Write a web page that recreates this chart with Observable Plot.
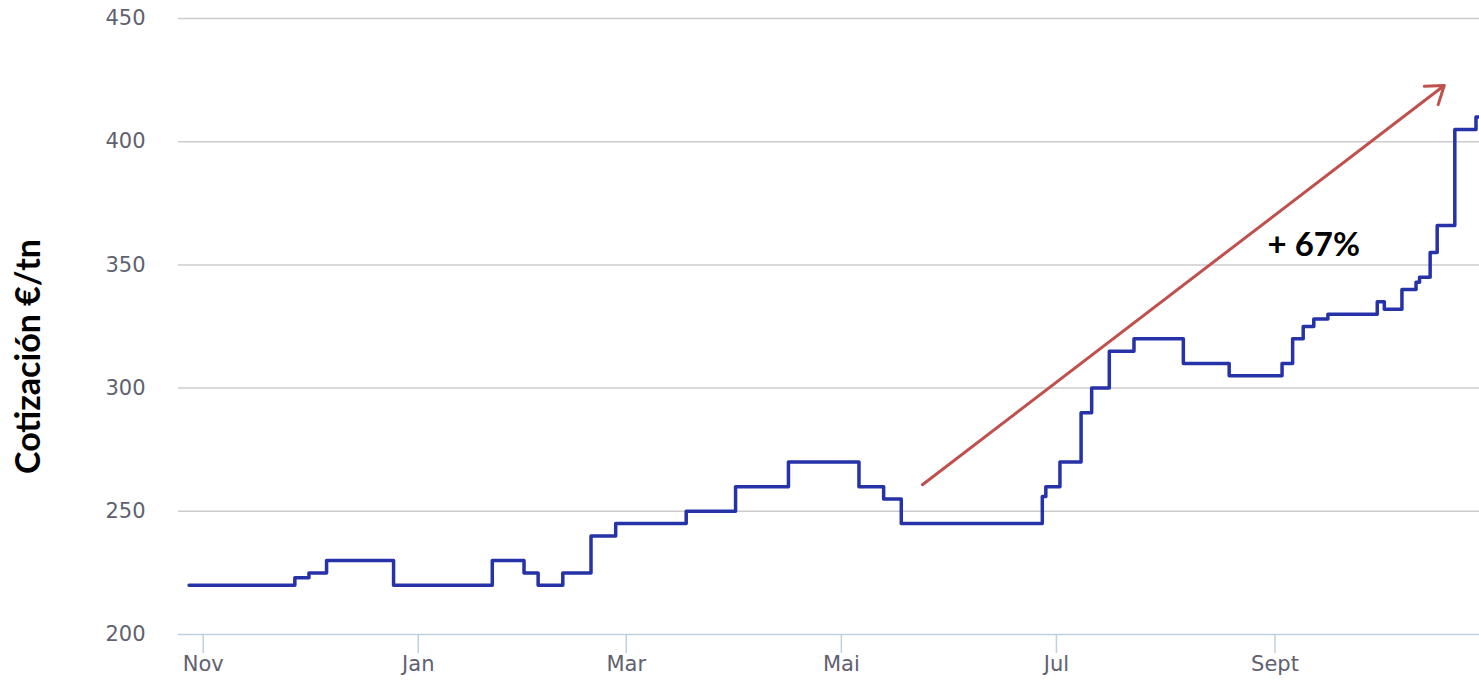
<!DOCTYPE html>
<html>
<head>
<meta charset="utf-8">
<script src="https://cdn.jsdelivr.net/npm/d3@7"></script>
<script src="https://cdn.jsdelivr.net/npm/@observablehq/plot@0.6"></script>
<style>
  html, body { margin: 0; padding: 0; background: #fff; }
  #chart { width: 1479px; height: 682px; }
</style>
</head>
<body>
<div id="chart"></div>
<script>
// Step changes of the price (date where the new level starts, €/tn)
const dates = [
  "2020-10-28","2020-11-27","2020-12-01","2020-12-06","2020-12-25",
  "2021-01-22","2021-01-31","2021-02-04","2021-02-11","2021-02-19","2021-02-26",
  "2021-03-18","2021-04-01","2021-04-16","2021-05-06","2021-05-13","2021-05-18",
  "2021-06-27","2021-06-28","2021-07-02","2021-07-08","2021-07-11","2021-07-16","2021-07-23",
  "2021-08-06","2021-08-19","2021-09-03","2021-09-06","2021-09-09","2021-09-12","2021-09-16",
  "2021-09-30","2021-10-02","2021-10-07","2021-10-11","2021-10-12","2021-10-15","2021-10-17",
  "2021-10-22","2021-10-28","2021-10-29"
];
const prices = [
  220,223,225,230,220,
  230,225,220,225,240,245,
  250,260,270,260,255,245,
  256,260,270,290,300,315,320,
  310,305,310,320,325,328,330,
  335,332,340,343,345,355,366,
  405,410,410
];

const yTicks = [200, 250, 300, 350, 400, 450];
const monthTicks = ["2020-11-01","2021-01-01","2021-03-01","2021-05-01","2021-07-01","2021-09-01"];
const monthLabels = ["Nov","Jan","Mar","Mai","Jul","Sept"];

const arrowStart = {date: "2021-05-24", value: 260.8};
const arrowEnd = {date: "2021-10-19", value: 422.8};
const annotation = {date: "2021-09-12", value: 358, text: "+ 67%"};
const yLabel = "Cotización €/tn";

const series = dates.map((d, i) => ({date: new Date(d), price: prices[i]}));
const ticksX = monthTicks.map(d => new Date(d));
const labelOf = new Map(ticksX.map((d, i) => [+d, monthLabels[i]]));

const tickColor = "#5f6170";
const tickFont = "DejaVu Sans, Verdana, sans-serif";

const chart = Plot.plot({
  width: 1479,
  height: 682,
  marginLeft: 178,
  marginRight: 0,
  marginTop: 18,
  marginBottom: 48,
  style: {background: "#fff", overflow: "visible"},
  x: {type: "utc", domain: [new Date("2020-10-25"), new Date("2021-10-29")]},
  y: {domain: [200, 450]},
  marks: [
    Plot.gridY(yTicks.filter(v => v > 200), {stroke: "#cccccc", strokeOpacity: 1, strokeWidth: 1.5}),
    Plot.axisY(yTicks, {
      tickSize: 0, tickPadding: 33, fontSize: 21, fill: tickColor,
      fontFamily: tickFont, label: null
    }),
    Plot.ruleY([200], {stroke: "#c0d0e0", strokeWidth: 1.5}),
    Plot.axisX(ticksX, {
      tickSize: 19, tickPadding: 3, stroke: "#c0d0e0", strokeWidth: 1.5,
      fontSize: 21, fill: tickColor, fontFamily: tickFont,
      tickFormat: d => labelOf.get(+d), label: null
    }),
    Plot.line(series, {
      x: "date", y: "price", curve: "step-after",
      stroke: "#2632a8", strokeWidth: 3.5
    }),
    Plot.arrow([{x1: new Date(arrowStart.date), y1: arrowStart.value, x2: new Date(arrowEnd.date), y2: arrowEnd.value}], {
      x1: "x1", y1: "y1", x2: "x2", y2: "y2",
      stroke: "#c0504d", strokeWidth: 3, headLength: 10, headAngle: 70
    }),
    Plot.text([annotation], {
      x: d => new Date(d.date), y: "value", text: "text",
      fontSize: 33, fontWeight: "bold", fill: "#000",
      fontFamily: "Lato, Liberation Sans, sans-serif"
    }),
    Plot.text([yLabel], {
      frameAnchor: "left", textAnchor: "middle", rotate: -90, dx: -149, dy: 30,
      text: d => d, fontSize: 34, fontWeight: "bold", fill: "#000",
      fontFamily: "Lato, Liberation Sans, sans-serif"
    })
  ]
});

document.getElementById("chart").append(chart);
</script>
</body>
</html>
